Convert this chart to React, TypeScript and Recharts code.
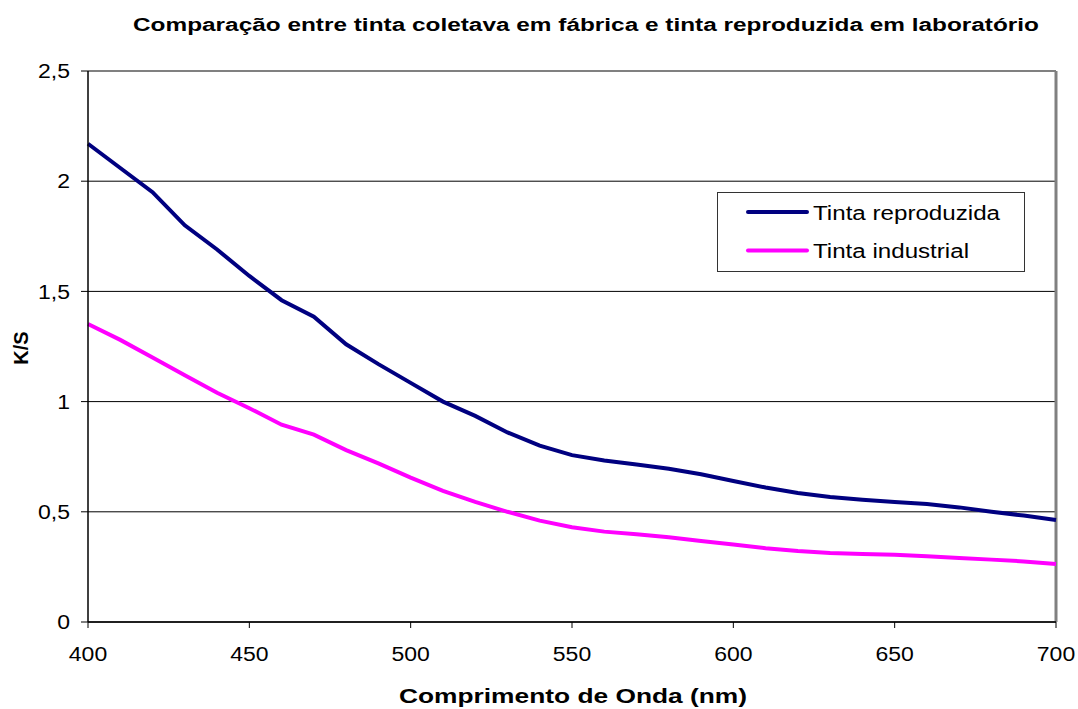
import React from "react";
import {
  LineChart,
  Line,
  XAxis,
  YAxis,
  CartesianGrid,
  ReferenceLine,
} from "recharts";

const wavelengths = [
  400, 410, 420, 430, 440, 450, 460, 470, 480, 490, 500, 510, 520, 530, 540, 550,
  560, 570, 580, 590, 600, 610, 620, 630, 640, 650, 660, 670, 680, 690, 700,
];
const reproduzida = [
  2.17, 2.06, 1.95, 1.8, 1.69, 1.57, 1.46, 1.385, 1.26, 1.17, 1.085, 1.0, 0.935,
  0.86, 0.8, 0.757, 0.733, 0.715, 0.695, 0.67, 0.64, 0.61, 0.585, 0.567, 0.555,
  0.545, 0.535, 0.52, 0.5, 0.483, 0.463,
];
const industrial = [
  1.352, 1.28, 1.2, 1.12, 1.04, 0.97, 0.895, 0.85, 0.78, 0.72, 0.655, 0.595, 0.545,
  0.5, 0.46, 0.43, 0.41, 0.398, 0.385, 0.368, 0.352, 0.335, 0.322, 0.313, 0.308,
  0.305, 0.298, 0.29, 0.283, 0.275, 0.263,
];
const xTicks = [400, 450, 500, 550, 600, 650, 700];
const yTicks = [0, 0.5, 1, 1.5, 2, 2.5];
const seriesNames = ["Tinta reproduzida", "Tinta industrial"];
const seriesColors = ["#000080", "#FF00FF"];
const titleText =
  "Comparação entre tinta coletava em fábrica e tinta reproduzida em laboratório";
const xLabelText = "Comprimento de Onda (nm)";
const yLabelText = "K/S";

const data = wavelengths.map((w, i) => ({
  nm: w,
  rep: reproduzida[i],
  ind: industrial[i],
}));

const FONT = "'Liberation Sans', Arial, sans-serif";
const TICK_SIZE = 20;
const STRETCH = 1.15;

const fmt = (v: number) => String(v).replace(".", ",");

const charW = (c: string) => (c === "," || c === "." ? 0.278 : 0.556);
const natWidth = (s: string, size: number) =>
  s.split("").reduce((a, c) => a + charW(c), 0) * size;

const XTick = (props: any) => {
  const { x, y, payload } = props;
  const s = fmt(payload.value);
  return (
    <text
      x={x}
      y={y}
      dy={TICK_SIZE * 0.72}
      textAnchor="middle"
      fill="#000"
      fontSize={TICK_SIZE}
      fontFamily={FONT}
      textLength={natWidth(s, TICK_SIZE) * STRETCH}
      lengthAdjust="spacingAndGlyphs"
    >
      {s}
    </text>
  );
};

const YTick = (props: any) => {
  const { x, y, payload } = props;
  const s = fmt(payload.value);
  return (
    <text
      x={x}
      y={y}
      dy={TICK_SIZE * 0.36}
      textAnchor="end"
      fill="#000"
      fontSize={TICK_SIZE}
      fontFamily={FONT}
      textLength={natWidth(s, TICK_SIZE) * STRETCH}
      lengthAdjust="spacingAndGlyphs"
    >
      {s}
    </text>
  );
};

export default function App() {
  return (
    <div
      style={{
        position: "absolute",
        left: 0,
        top: 0,
        width: 1078,
        height: 709,
        background: "#fff",
        fontFamily: FONT,
      }}
    >
      <LineChart
        width={1078}
        height={709}
        data={data}
        margin={{ top: 71, right: 22, bottom: 0, left: 0 }}
        style={{ fontFamily: FONT }}
      >
        <CartesianGrid horizontal vertical={false} stroke="#000" strokeWidth={1} />
        <XAxis
          dataKey="nm"
          type="number"
          domain={[400, 700]}
          ticks={xTicks}
          height={87}
          tickSize={6}
          tickMargin={19}
          tick={<XTick />}
          axisLine={{ stroke: "#000", strokeWidth: 1.5 }}
          tickLine={{ stroke: "#000" }}
        />
        <YAxis
          type="number"
          domain={[0, 2.5]}
          ticks={yTicks}
          width={88}
          tickSize={7}
          tickMargin={11}
          tick={<YTick />}
          axisLine={{ stroke: "#000", strokeWidth: 1.5 }}
          tickLine={{ stroke: "#000" }}
        />
        <ReferenceLine y={2.5} stroke="#808080" strokeWidth={2} />
        <ReferenceLine x={700} stroke="#808080" strokeWidth={3} />
        <Line
          type="linear"
          dataKey="rep"
          name={seriesNames[0]}
          stroke={seriesColors[0]}
          strokeWidth={4}
          dot={false}
          isAnimationActive={false}
        />
        <Line
          type="linear"
          dataKey="ind"
          name={seriesNames[1]}
          stroke={seriesColors[1]}
          strokeWidth={4}
          dot={false}
          isAnimationActive={false}
        />
      </LineChart>
      <svg
        width={1078}
        height={709}
        style={{ position: "absolute", left: 0, top: 0, pointerEvents: "none" }}
      >
        <text
          x={586}
          y={31}
          textAnchor="middle"
          fontWeight="bold"
          fontSize={18}
          fontFamily={FONT}
          fill="#000"
          textLength={906}
          lengthAdjust="spacingAndGlyphs"
        >
          {titleText}
        </text>
        <text
          x={573}
          y={703}
          textAnchor="middle"
          fontWeight="bold"
          fontSize={21}
          fontFamily={FONT}
          fill="#000"
          textLength={348}
          lengthAdjust="spacingAndGlyphs"
        >
          {xLabelText}
        </text>
        <text
          x={28}
          y={348}
          textAnchor="middle"
          fontWeight="bold"
          fontSize={20}
          fontFamily={FONT}
          fill="#000"
          transform="rotate(-90 28 348)"
        >
          {yLabelText}
        </text>
        <rect x={717.5} y={192.5} width={307} height={79} fill="#fff" stroke="#333" strokeWidth={1} />
        {seriesNames.map((n, i) => {
          const cy = i === 0 ? 212 : 250.5;
          return (
            <g key={n}>
              <line
                x1={748}
                y1={cy}
                x2={807}
                y2={cy}
                stroke={seriesColors[i]}
                strokeWidth={4}
                strokeLinecap="round"
              />
              <text
                x={813}
                y={cy + 7.5}
                fontSize={20}
                fontFamily={FONT}
                fill="#000"
                textLength={i === 0 ? 187 : 156}
                lengthAdjust="spacingAndGlyphs"
              >
                {n}
              </text>
            </g>
          );
        })}
      </svg>
    </div>
  );
}
